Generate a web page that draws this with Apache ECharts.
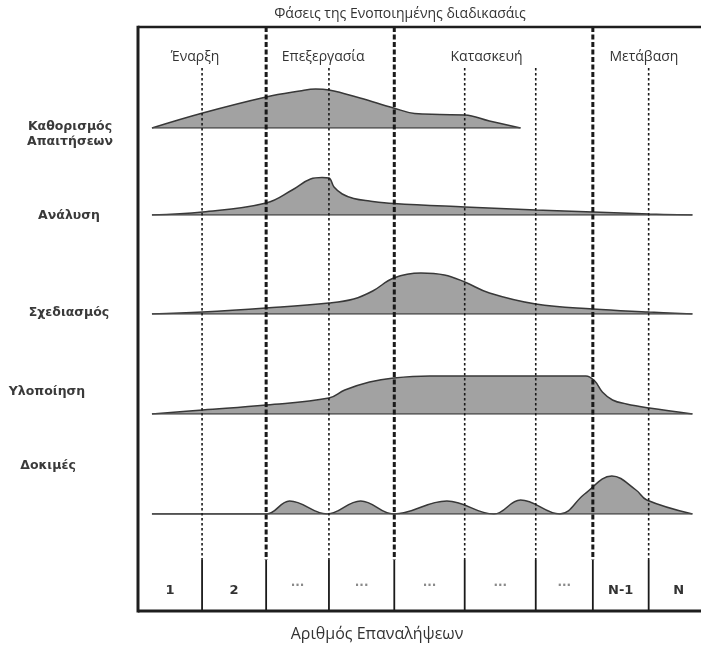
<!DOCTYPE html>
<html><head><meta charset="utf-8">
<script src="https://cdn.jsdelivr.net/npm/echarts@6/dist/echarts.min.js"></script>
<style>html,body{margin:0;padding:0;background:#fff}#c{width:701px;height:649px}</style>
</head><body><div id="c"></div>
<script>
// ---------------- data ----------------
const chartTitle = 'Φάσεις της Ενοποιημένης διαδικασάις';
const xAxisTitle = 'Αριθμός Επαναλήψεων';
const phases = ['Έναρξη', 'Επεξεργασία', 'Κατασκευή', 'Μετάβαση'];
const phaseEnds = [2.02, 4.04, 7.17, 9];               // iteration-axis position where each phase ends
const iterationBoundaries = [1.01, 2.02, 3.01, 4.04, 5.15, 6.27, 7.17, 8.05];
const iterationLabels = ['1', '2', '···', '···', '···', '···', '···', 'N-1', 'N'];
const disciplines = ['Καθορισμός\nΑπαιτήσεων', 'Ανάλυση', 'Σχεδιασμός', 'Υλοποίηση', 'Δοκιμές'];

// effort curves: [iteration position, effort]
const requirements = [[0.22,0],[1.02,15],[2.02,31],[2.55,37],[2.80,39],[3.01,38],[3.50,30],[4.03,20],[4.36,14.5],[4.76,13.5],[5.15,13],[5.54,7],[6.03,0]];
const analysis = [[0.22,0],[1.02,3],[2.02,12],[2.43,25],[2.72,36],[2.90,37.5],[3.01,37],[3.09,28],[3.22,21],[3.40,16.5],[3.65,14],[4.03,11.5],[5.15,8],[6.27,5],[7.17,3],[8.06,1],[8.74,0]];
const design = [[0.22,0],[1.02,2],[2.02,6],[3.01,11],[3.40,15],[3.70,23],[4.03,36],[4.46,41],[4.83,39],[5.15,32],[5.54,21],[6.27,10],[7.17,5],[8.06,2],[8.74,0]];
const implementation = [[0.22,0],[1.02,4],[2.02,9],[3.01,16],[3.26,24],[3.65,32],[4.03,36],[4.6,38],[5.5,38],[6.27,38],[7.06,38],[7.20,33],[7.32,22],[7.48,14],[7.70,10],[8.06,6],[8.74,0]];
const testing = [[0.22,0],[2.02,0],[2.39,13],[2.98,0],[3.51,13],[4.03,0],[4.87,13],[5.61,0],[6.03,14],[6.65,0],[7.04,20],[7.47,38],[7.85,24],[8.02,14],[8.74,0]];
const curves = [requirements, analysis, design, implementation, testing];

// ---------------- layout ----------------
const L = 138, TOP = 27, BOT = 611;
const X_MAX_VISIBLE = 8.875;      // the page cuts the frame at its right side
const rowBaselines = [128, 215, 314, 414, 514];
const ROWH = 60;
const labelPos = [[70,134],[69,216],[69,313],[47,392],[48,466]];

const grids = [{left: L, top: TOP, right: 0, height: BOT - TOP, show: false}];
const xAxes = [{type: 'value', gridIndex: 0, min: 0, max: X_MAX_VISIBLE, show: false}];
const yAxes = [{type: 'value', gridIndex: 0, min: 0, max: 1, show: false}];
rowBaselines.forEach((b, i) => {
  grids.push({left: L, top: b - ROWH, right: 0, height: ROWH, show: false});
  xAxes.push({type: 'value', gridIndex: i + 1, min: 0, max: X_MAX_VISIBLE, show: false});
  yAxes.push({type: 'value', gridIndex: i + 1, min: 0, max: ROWH, show: false});
});

const series = [];
curves.forEach((c, i) => {
  series.push({
    type: 'line', xAxisIndex: i + 1, yAxisIndex: i + 1, data: c, smooth: 0.4,
    symbol: 'none', lineStyle: {color: '#383838', width: 1.5},
    areaStyle: {color: '#a2a2a2', opacity: 1}, z: 3, silent: true
  });
  series.push({
    type: 'line', xAxisIndex: i + 1, yAxisIndex: i + 1, data: [c[0], [c[c.length - 1][0], 0]],
    symbol: 'none', lineStyle: {color: '#4a4a4a', width: 1.3}, z: 4, silent: true
  });
});

// frame (left, top, bottom edges; the right edge lies outside the page)
series.push({
  type: 'custom', xAxisIndex: 0, yAxisIndex: 0, z: 7, silent: true, data: [[0, 0]],
  renderItem(params, api) {
    const cs = params.coordSys;
    const x0 = api.coord([0, 0])[0], x1 = cs.x + cs.width + 10;
    const st = {stroke: '#1e1e1e', lineWidth: 2.5};
    return {type: 'group', children: [
      {type: 'line', shape: {x1: x0, y1: cs.y, x2: x1, y2: cs.y}, style: st},
      {type: 'line', shape: {x1: x0, y1: cs.y + cs.height, x2: x1, y2: cs.y + cs.height}, style: {stroke: '#1e1e1e', lineWidth: 3}},
      {type: 'line', shape: {x1: x0, y1: cs.y - 1.2, x2: x0, y2: cs.y + cs.height + 1.5}, style: {stroke: '#1e1e1e', lineWidth: 3}}
    ]};
  }
});

const phaseSet = new Set(phaseEnds);
series.push({
  type: 'custom', xAxisIndex: 0, yAxisIndex: 0, z: 6, silent: true,
  data: iterationBoundaries.map(b => [b, phaseSet.has(b) ? 1 : 0]),
  renderItem(params, api) {
    const x = api.coord([api.value(0), 0])[0];
    const cs = params.coordSys;
    const top = cs.y, bottom = cs.y + cs.height, bandTop = bottom - 51;
    const thick = api.value(1) === 1;
    return {type: 'group', children: [
      {type: 'line', shape: {x1: x, y1: thick ? top : top + 41, x2: x, y2: bandTop},
       style: {stroke: '#1a1a1a', lineWidth: thick ? 3 : 1.6, lineDash: thick ? [5, 2.5] : [2.5, 2.5]}},
      {type: 'line', shape: {x1: x, y1: bandTop, x2: x, y2: bottom},
       style: {stroke: '#1a1a1a', lineWidth: 1.8}}
    ]};
  }
});

const edges = [0, ...iterationBoundaries, 9];
series.push({
  type: 'custom', xAxisIndex: 0, yAxisIndex: 0, z: 6, silent: true,
  data: iterationLabels.map((t, i) => [(edges[i] + edges[i + 1]) / 2, i]),
  renderItem(params, api) {
    const x = api.coord([api.value(0), 0])[0];
    const cs = params.coordSys;
    const t = iterationLabels[api.value(1)];
    const dots = t === '···';
    return {type: 'text', style: {x: x, y: cs.y + cs.height - (dots ? 25 : 20), text: t, align: 'center', verticalAlign: 'middle',
      fill: dots ? '#8a8a8a' : '#333', font: dots ? 'bold 12px "DejaVu Sans"' : 'bold 13px "DejaVu Sans"'}};
  }
});

const pStarts = [0, ...phaseEnds.slice(0, -1)];
series.push({
  type: 'custom', xAxisIndex: 0, yAxisIndex: 0, z: 6, silent: true,
  data: phases.map((p, i) => [(pStarts[i] + phaseEnds[i]) / 2, i]),
  renderItem(params, api) {
    const x = api.coord([api.value(0), 0])[0];
    const cs = params.coordSys;
    return {type: 'text', style: {x: x - 7, y: cs.y + 30, text: phases[api.value(1)], align: 'center', verticalAlign: 'middle',
      fill: '#333', font: '14px "Open Sans"'}};
  }
});

const graphics = [
  {type: 'text', x: 400, y: 14, style: {text: chartTitle, align: 'center', verticalAlign: 'middle', fill: '#333', font: '14px "Open Sans"'}},
  {type: 'text', x: 377, y: 634, style: {text: xAxisTitle, align: 'center', verticalAlign: 'middle', fill: '#333', font: '16px "Open Sans"'}}
];
disciplines.forEach((d, i) => {
  graphics.push({type: 'text', x: labelPos[i][0], y: labelPos[i][1], style: {text: d, align: 'center', verticalAlign: 'middle',
    fill: '#3a3a3a', font: 'bold 12.5px "DejaVu Sans"', lineHeight: 15}});
});

const chart = echarts.init(document.getElementById('c'));
chart.setOption({animation: false, grid: grids, xAxis: xAxes, yAxis: yAxes, series: series, graphic: graphics});
</script></body></html>
